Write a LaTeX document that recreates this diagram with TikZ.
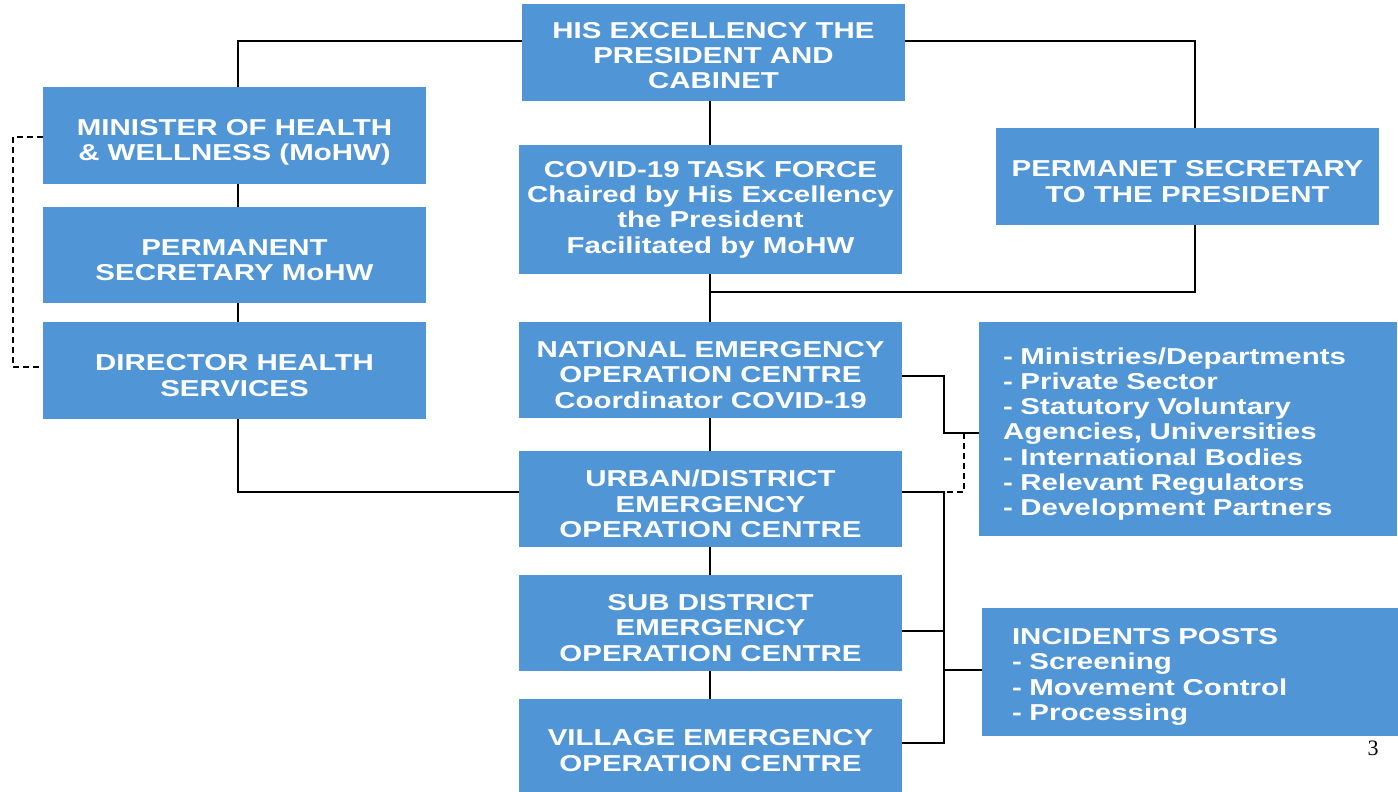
\documentclass[tikz,border=0pt]{standalone}
\usepackage{fontspec}
\setmainfont{Liberation Sans}
\newfontfamily\boxfont[FakeStretch=1.28]{Liberation Sans}
\newfontfamily\serifnum{Liberation Serif}
\definecolor{boxblue}{RGB}{80,150,214}
\begin{document}
\begin{tikzpicture}[x=1pt,y=-1pt,
  box/.style={fill=boxblue, draw=none, inner sep=0pt},
  bt/.style={inner sep=0pt, text=white, yshift=-5pt,
    font=\boxfont\fontsize{23}{25.3}\selectfont\bfseries, align=center},
  link/.style={draw=black, line width=2pt},
  dlink/.style={draw=black, line width=2pt, dash pattern=on 6pt off 4pt}]
\useasboundingbox (0,0) rectangle (1398,792);
% boxes (centres, sizes)
\node[box, minimum width=383, minimum height=97, label={[bt,yshift=2pt]center:{HIS EXCELLENCY THE\\PRESIDENT AND\\CABINET}}] (pres) at (713.5,52.5) {};
\node[box, minimum width=383, minimum height=97, label={[bt,yshift=-2pt]center:{MINISTER OF HEALTH\\\& WELLNESS (MoHW)}}] (min) at (234.5,135.5) {};
\node[box, minimum width=383, minimum height=96, label={[bt]center:{PERMANENT\\SECRETARY MoHW}}] (psm) at (234.5,255) {};
\node[box, minimum width=383, minimum height=97, label={[bt]center:{DIRECTOR HEALTH\\SERVICES}}] (dhs) at (234.5,370.5) {};
\node[box, minimum width=383, minimum height=129, label={[bt,yshift=5pt]center:{COVID-19 TASK FORCE\\Chaired by His Excellency\\the President\\Facilitated by MoHW}}] (tf) at (710.5,209.5) {};
\node[box, minimum width=383, minimum height=97, label={[bt]center:{PERMANET SECRETARY\\TO THE PRESIDENT}}] (psp) at (1187.5,176.5) {};
\node[box, minimum width=383, minimum height=96, label={[bt]center:{NATIONAL EMERGENCY\\OPERATION CENTRE\\Coordinator COVID-19}}] (neoc) at (710.5,370) {};
\node[box, minimum width=383, minimum height=96, label={[bt]center:{URBAN/DISTRICT\\EMERGENCY\\OPERATION CENTRE}}] (urb) at (710.5,499) {};
\node[box, minimum width=383, minimum height=96, label={[bt]center:{SUB DISTRICT\\EMERGENCY\\OPERATION CENTRE}}] (sub) at (710.5,623) {};
\node[box, minimum width=383, minimum height=93, label={[bt]center:{VILLAGE EMERGENCY\\OPERATION CENTRE}}] (vil) at (710.5,745.5) {};
\node[box, minimum width=418, minimum height=214, label={[bt,text width=370,align=left]center:{- Ministries/Departments\\- Private Sector\\- Statutory Voluntary\\Agencies, Universities\\- International Bodies\\- Relevant Regulators\\- Development Partners}}] (part) at (1188,429) {};
\node[box, minimum width=416, minimum height=128, label={[bt,text width=356,align=left]center:{INCIDENTS POSTS\\- Screening\\- Movement Control\\- Processing}}] (inc) at (1190,672) {};
\node[font=\serifnum\fontsize{22}{22}\selectfont, inner sep=0pt] (pg) at (1373,748) {3};
% coordinates
\coordinate (jtf) at (710,292);
\coordinate (jr) at (944,492);
\coordinate (pl) at (238,41);
\coordinate (pr) at (1195,41);
% connectors
\draw[link] (pres.west |- pl) -- (pl) -- (min.north -| pl);
\draw[link] (pres.east |- pr) -- (pr) -- (psp.north -| pr);
\draw[link] (pres.south -| 710,0) -- (tf.north -| 710,0);
\draw[link] (tf.south -| 710,0) -- (neoc.north -| 710,0);
\draw[link] (psp.south -| pr) |- (jtf);
\draw[link] (min.south -| pl) -- (psm.north -| pl);
\draw[link] (psm.south -| pl) -- (dhs.north -| pl);
\draw[link] (dhs.south -| pl) |- (urb.west |- jr);
\draw[link] (neoc.south -| 710,0) -- (urb.north -| 710,0);
\draw[link] (urb.south -| 710,0) -- (sub.north -| 710,0);
\draw[link] (sub.south -| 710,0) -- (vil.north -| 710,0);
\draw[link] (neoc.east |- 0,376) -| (944,433) -- (part.west |- 0,433);
\draw[dlink] (964,433) -- (964,492) -- (jr);
\draw[link] (urb.east |- jr) -- (jr) -- (944,743) -- (vil.east |- 0,743);
\draw[link] (sub.east |- 0,631) -- (944,631);
\draw[link] (inc.west |- 0,670) -- (944,670);
\draw[dlink] (min.west |- 0,137) -- (13,137) -- (13,367) -- (dhs.west |- 0,367);
\end{tikzpicture}
\end{document}
